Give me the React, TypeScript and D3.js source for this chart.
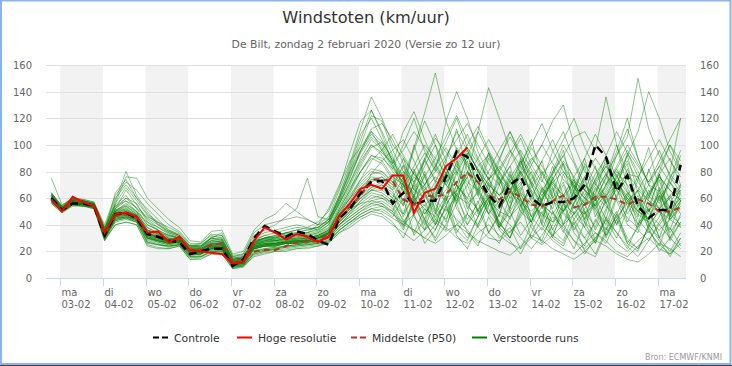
import { useRef, useEffect } from "react";
import * as d3 from "d3";

// forecast steps: 2 Feb 19:00 (local) + 6h per step
const startTime = Date.UTC(2020, 1, 2, 19);
const stepMs = 6 * 3600 * 1000;

const dayNames = ["ma", "di", "wo", "do", "vr", "za", "zo", "ma", "di", "wo", "do", "vr", "za", "zo", "ma"];
const dayDates = ["03-02", "04-02", "05-02", "06-02", "07-02", "08-02", "09-02", "10-02", "11-02", "12-02", "13-02", "14-02", "15-02", "16-02", "17-02"];
const yTicks = [0, 20, 40, 60, 80, 100, 120, 140, 160];

const controle = [60, 51, 56, 56, 54, 32, 48, 49, 45, 33, 31, 28, 27, 18, 20, 22, 22, 9, 14, 30, 39, 35, 31, 35, 33, 28, 25, 45, 52, 64, 72, 73, 56, 64, 55, 58, 58, 76, 95, 91, 76, 62, 54, 70, 76, 60, 54, 57, 57, 60, 70, 100, 91, 65, 77, 54, 45, 51, 51, 85];
const hogeResolutie = [59, 50, 61, 57, 54, 34, 48, 49, 46, 34, 35, 27, 31, 21, 20, 19, 18, 11, 12, 28, 38, 34, 29, 33, 31, 27, 31, 47, 56, 67, 70, 67, 77, 77, 49, 64, 67, 84, 90, 98];
const middelste = [59, 51, 57, 57, 54, 33, 47, 48, 45, 33, 31, 28, 29, 20, 21, 25, 26, 13, 14, 20, 21, 21, 24, 27, 27, 28, 33, 44, 54, 62, 74, 74, 73, 59, 55, 62, 61, 63, 72, 79, 72, 62, 59, 65, 61, 55, 54, 58, 62, 53, 55, 61, 61, 59, 55, 59, 56, 50, 50, 53];

const verstoordeRuns = [
  [62, 52, 58, 57, 55, 35, 50, 52, 47, 36, 33, 30, 28, 21, 22, 26, 25, 12, 14, 26, 30, 28, 30, 29, 30, 32, 36, 48, 60, 72, 80, 78, 70, 85, 66, 60, 72, 90, 110, 96, 80, 70, 62, 75, 88, 70, 55, 48, 60, 72, 66, 58, 70, 82, 65, 50, 45, 60, 72, 58],
  [58, 50, 56, 55, 53, 30, 44, 46, 44, 30, 28, 26, 27, 18, 18, 22, 22, 10, 12, 22, 24, 24, 26, 26, 27, 28, 31, 42, 50, 58, 66, 70, 62, 55, 70, 88, 74, 60, 65, 80, 72, 58, 50, 46, 55, 68, 80, 62, 48, 40, 52, 64, 78, 60, 45, 38, 50, 62, 48, 40],
  [75, 55, 60, 58, 56, 38, 55, 62, 52, 40, 36, 32, 30, 23, 22, 28, 27, 14, 15, 28, 32, 30, 34, 32, 33, 35, 40, 58, 75, 95, 110, 96, 82, 100, 120, 95, 80, 118, 140, 120, 95, 78, 70, 90, 105, 85, 72, 95, 110, 88, 70, 60, 75, 95, 120, 90, 70, 65, 80, 120],
  [56, 49, 55, 54, 52, 28, 42, 44, 42, 26, 25, 24, 25, 16, 16, 20, 20, 8, 10, 18, 20, 22, 23, 24, 25, 26, 28, 36, 42, 48, 52, 50, 45, 40, 48, 55, 42, 35, 40, 48, 38, 30, 28, 35, 42, 30, 25, 32, 40, 28, 22, 30, 38, 26, 20, 28, 35, 25, 18, 30],
  [64, 53, 59, 58, 56, 36, 58, 80, 62, 50, 40, 35, 32, 24, 24, 30, 28, 15, 16, 30, 34, 36, 38, 40, 38, 36, 42, 60, 80, 100, 122, 118, 96, 80, 72, 88, 105, 95, 80, 70, 84, 92, 75, 60, 70, 85, 100, 118, 130, 100, 80, 70, 62, 75, 88, 72, 60, 78, 90, 70],
  [60, 51, 57, 56, 54, 32, 48, 50, 46, 34, 30, 27, 28, 19, 20, 24, 23, 11, 12, 24, 26, 26, 28, 28, 29, 30, 34, 46, 56, 66, 74, 76, 66, 48, 72, 58, 40, 62, 88, 54, 46, 70, 38, 52, 80, 64, 44, 30, 56, 74, 48, 62, 90, 58, 40, 34, 60, 78, 46, 70],
  [61, 52, 58, 57, 55, 34, 52, 66, 55, 44, 38, 33, 30, 22, 21, 26, 25, 12, 13, 25, 28, 28, 30, 30, 30, 31, 35, 50, 64, 80, 92, 88, 76, 70, 84, 100, 90, 78, 92, 108, 90, 74, 62, 70, 80, 66, 58, 74, 86, 70, 60, 52, 64, 76, 92, 110, 140, 120, 95, 80],
  [57, 50, 55, 54, 53, 29, 40, 42, 40, 24, 22, 22, 24, 14, 14, 18, 18, 7, 9, 16, 18, 20, 20, 22, 22, 24, 27, 34, 38, 44, 48, 46, 40, 34, 28, 36, 44, 38, 30, 26, 34, 40, 32, 26, 22, 30, 38, 28, 22, 18, 26, 34, 28, 20, 16, 24, 30, 22, 18, 26],
  [63, 54, 60, 59, 57, 40, 62, 72, 66, 56, 48, 40, 35, 26, 26, 33, 32, 17, 18, 34, 40, 42, 44, 46, 44, 40, 46, 66, 86, 112, 136, 120, 100, 90, 78, 70, 84, 98, 84, 72, 66, 80, 96, 110, 90, 76, 64, 80, 92, 74, 62, 78, 90, 70, 58, 66, 80, 96, 76, 64],
  [59, 51, 56, 55, 54, 31, 46, 47, 44, 32, 29, 26, 27, 18, 19, 22, 22, 10, 11, 23, 25, 25, 27, 27, 28, 29, 33, 44, 52, 60, 66, 64, 58, 64, 76, 68, 58, 66, 82, 96, 80, 66, 56, 64, 58, 50, 60, 72, 62, 54, 48, 56, 66, 80, 70, 58, 48, 40, 50, 60],
  [62, 53, 59, 58, 56, 37, 54, 58, 50, 42, 36, 30, 29, 22, 23, 30, 34, 16, 17, 27, 30, 32, 34, 34, 32, 30, 34, 52, 66, 84, 98, 102, 90, 76, 98, 124, 154, 118, 96, 84, 72, 60, 52, 64, 78, 90, 80, 68, 56, 48, 60, 74, 86, 70, 58, 50, 62, 76, 66, 58],
  [59, 50, 56, 56, 54, 32, 45, 46, 43, 30, 27, 25, 26, 17, 18, 21, 21, 9, 10, 21, 22, 23, 24, 25, 26, 27, 30, 40, 46, 52, 56, 58, 52, 38, 60, 44, 70, 56, 34, 48, 82, 60, 42, 30, 54, 66, 40, 76, 58, 36, 50, 28, 44, 72, 86, 52, 38, 62, 30, 48],
  [61, 52, 58, 56, 55, 34, 50, 54, 49, 38, 34, 31, 30, 22, 22, 27, 27, 13, 14, 27, 30, 30, 32, 34, 36, 38, 44, 62, 82, 104, 126, 110, 92, 64, 100, 76, 58, 88, 112, 80, 66, 94, 70, 52, 84, 104, 74, 60, 40, 66, 90, 58, 76, 100, 68, 46, 82, 58, 70, 92],
  [57, 50, 55, 55, 53, 30, 43, 45, 43, 28, 26, 24, 25, 16, 17, 20, 21, 8, 9, 19, 21, 22, 24, 25, 25, 26, 29, 38, 44, 50, 54, 56, 50, 70, 46, 36, 62, 80, 52, 40, 58, 34, 48, 74, 56, 30, 44, 64, 86, 54, 38, 26, 50, 68, 42, 60, 36, 24, 46, 64],
  [60, 51, 57, 57, 55, 33, 56, 76, 75, 60, 52, 44, 38, 28, 27, 35, 36, 18, 20, 36, 44, 48, 56, 50, 44, 40, 42, 56, 72, 90, 104, 96, 84, 72, 96, 118, 100, 82, 70, 92, 110, 94, 78, 66, 80, 98, 84, 70, 62, 76, 90, 108, 92, 76, 64, 56, 70, 84, 72, 62],
  [58, 51, 56, 55, 54, 31, 47, 48, 45, 33, 30, 27, 28, 19, 19, 23, 23, 11, 12, 24, 25, 26, 27, 28, 28, 30, 32, 44, 54, 62, 70, 68, 60, 42, 54, 78, 50, 36, 66, 92, 70, 48, 58, 80, 54, 42, 68, 50, 34, 56, 76, 46, 62, 40, 52, 74, 98, 66, 44, 56],
  [63, 53, 59, 58, 56, 35, 52, 58, 53, 46, 42, 38, 34, 25, 24, 28, 27, 13, 14, 26, 29, 29, 31, 31, 32, 34, 40, 56, 70, 86, 100, 94, 86, 96, 110, 98, 84, 72, 86, 100, 114, 96, 80, 94, 108, 92, 78, 88, 104, 120, 98, 82, 70, 84, 100, 86, 72, 88, 104, 120],
  [56, 49, 54, 54, 52, 28, 40, 42, 40, 25, 23, 22, 24, 14, 15, 18, 18, 7, 8, 17, 19, 20, 21, 22, 23, 24, 26, 34, 40, 46, 50, 48, 42, 30, 48, 26, 36, 54, 32, 22, 40, 58, 36, 28, 18, 34, 50, 30, 24, 42, 20, 16, 34, 46, 28, 22, 38, 20, 30, 42],
  [61, 52, 58, 57, 55, 34, 49, 51, 47, 35, 32, 29, 29, 21, 21, 25, 25, 12, 13, 25, 27, 27, 29, 29, 30, 32, 36, 50, 62, 74, 82, 80, 72, 90, 66, 84, 100, 70, 58, 80, 62, 90, 74, 56, 88, 70, 52, 78, 96, 64, 86, 72, 56, 66, 94, 80, 62, 52, 76, 86],
  [59, 51, 57, 56, 54, 32, 47, 49, 45, 32, 30, 28, 28, 20, 20, 23, 24, 11, 12, 23, 25, 25, 27, 27, 28, 30, 33, 44, 52, 60, 68, 72, 78, 56, 70, 48, 62, 84, 60, 44, 56, 76, 52, 64, 90, 58, 46, 68, 40, 56, 74, 50, 36, 60, 82, 54, 42, 66, 48, 58],
  [62, 52, 59, 57, 55, 36, 51, 54, 48, 38, 33, 29, 28, 21, 22, 26, 26, 13, 13, 26, 28, 30, 32, 32, 34, 40, 52, 70, 88, 98, 110, 102, 88, 74, 62, 54, 64, 78, 70, 60, 52, 60, 72, 84, 96, 82, 68, 58, 50, 60, 70, 62, 54, 46, 56, 66, 58, 50, 44, 52],
  [58, 50, 56, 55, 53, 31, 46, 48, 45, 30, 28, 26, 27, 19, 19, 22, 22, 10, 11, 22, 24, 24, 26, 26, 27, 28, 31, 40, 48, 54, 60, 62, 56, 72, 50, 64, 44, 58, 80, 52, 66, 48, 38, 62, 72, 46, 56, 36, 52, 70, 44, 60, 30, 48, 64, 40, 54, 74, 44, 38],
  [64, 54, 60, 59, 57, 38, 60, 70, 60, 52, 44, 36, 32, 24, 24, 31, 32, 16, 18, 32, 36, 40, 46, 52, 75, 46, 44, 58, 76, 96, 108, 100, 86, 110, 125, 104, 86, 72, 80, 94, 82, 70, 62, 72, 86, 100, 116, 96, 80, 68, 60, 72, 84, 72, 62, 54, 64, 76, 66, 58],
  [60, 51, 57, 56, 54, 33, 48, 50, 46, 33, 30, 28, 28, 20, 20, 24, 24, 11, 12, 24, 26, 26, 28, 28, 28, 30, 33, 45, 54, 62, 68, 70, 64, 46, 62, 80, 56, 42, 70, 58, 38, 54, 76, 50, 64, 42, 60, 84, 62, 44, 56, 36, 52, 72, 48, 62, 40, 30, 52, 66],
  [57, 50, 55, 54, 53, 30, 44, 45, 42, 27, 25, 23, 25, 15, 16, 19, 19, 8, 9, 18, 20, 21, 22, 23, 24, 25, 27, 36, 42, 46, 50, 52, 46, 60, 32, 44, 28, 40, 56, 34, 24, 46, 30, 38, 22, 40, 54, 32, 26, 44, 30, 18, 36, 50, 26, 20, 40, 28, 16, 30],
  [61, 52, 58, 57, 55, 34, 50, 53, 48, 36, 32, 29, 29, 21, 21, 25, 25, 12, 13, 25, 28, 28, 30, 30, 31, 33, 37, 52, 66, 80, 90, 86, 74, 66, 58, 66, 76, 70, 62, 56, 64, 74, 84, 72, 62, 54, 62, 72, 80, 70, 60, 54, 62, 70, 78, 68, 58, 52, 60, 68],
  [62, 53, 58, 57, 55, 35, 64, 74, 60, 48, 42, 36, 33, 24, 25, 30, 29, 14, 15, 28, 30, 32, 34, 36, 36, 38, 44, 60, 78, 94, 106, 98, 84, 70, 60, 52, 46, 56, 66, 78, 110, 143, 120, 96, 78, 64, 56, 48, 40, 48, 58, 70, 84, 72, 60, 50, 44, 52, 62, 70],
  [59, 50, 56, 55, 54, 31, 45, 46, 44, 31, 28, 26, 27, 18, 18, 22, 22, 10, 11, 22, 24, 24, 26, 26, 27, 28, 30, 40, 46, 52, 58, 60, 54, 40, 58, 36, 48, 62, 42, 30, 46, 60, 38, 50, 32, 44, 58, 36, 28, 50, 42, 26, 46, 34, 22, 40, 52, 30, 38, 24],
  [60, 52, 57, 56, 55, 33, 48, 50, 46, 34, 31, 28, 28, 20, 21, 24, 25, 12, 12, 24, 26, 27, 28, 28, 29, 31, 34, 46, 56, 68, 76, 74, 68, 84, 60, 90, 72, 58, 78, 94, 66, 54, 80, 68, 50, 74, 88, 60, 72, 52, 66, 84, 56, 70, 92, 64, 50, 78, 58, 66],
  [58, 50, 55, 55, 53, 30, 44, 46, 43, 29, 27, 25, 26, 17, 18, 21, 21, 9, 10, 20, 22, 23, 24, 25, 26, 27, 30, 38, 44, 50, 56, 54, 48, 42, 36, 30, 26, 32, 40, 34, 28, 24, 20, 17, 24, 32, 28, 22, 18, 14, 20, 28, 24, 18, 14, 12, 18, 26, 22, 16],
  [63, 53, 59, 58, 56, 36, 54, 60, 52, 45, 40, 34, 31, 23, 23, 28, 28, 14, 15, 27, 30, 31, 33, 33, 34, 36, 42, 56, 72, 88, 100, 92, 80, 68, 80, 94, 82, 70, 84, 98, 86, 74, 90, 106, 92, 78, 66, 78, 92, 106, 110, 96, 136, 100, 78, 76, 90, 104, 88, 76],
  [59, 51, 56, 56, 54, 32, 46, 48, 45, 31, 29, 27, 28, 19, 19, 23, 23, 10, 11, 23, 25, 25, 27, 27, 28, 29, 32, 43, 52, 60, 66, 66, 60, 76, 54, 40, 68, 84, 56, 70, 50, 64, 46, 78, 60, 42, 58, 74, 50, 66, 84, 52, 40, 62, 76, 56, 44, 68, 52, 60],
  [61, 52, 58, 57, 55, 34, 49, 52, 47, 36, 33, 30, 29, 21, 21, 26, 26, 12, 13, 25, 27, 28, 29, 30, 30, 32, 35, 48, 60, 74, 88, 96, 108, 92, 78, 66, 58, 50, 62, 76, 90, 104, 90, 76, 64, 56, 48, 42, 50, 62, 76, 90, 78, 66, 56, 48, 42, 36, 44, 54],
  [57, 50, 55, 55, 53, 29, 43, 45, 42, 27, 25, 24, 25, 16, 16, 20, 20, 9, 10, 19, 21, 22, 23, 24, 25, 26, 28, 36, 42, 48, 52, 54, 50, 36, 58, 42, 30, 48, 64, 40, 52, 34, 26, 46, 60, 38, 28, 50, 36, 22, 42, 56, 32, 44, 26, 38, 52, 30, 20, 34],
  [62, 53, 58, 57, 55, 35, 51, 55, 50, 40, 36, 32, 30, 22, 22, 27, 27, 13, 14, 26, 28, 29, 31, 31, 32, 34, 38, 54, 68, 80, 92, 90, 82, 72, 62, 70, 80, 92, 104, 116, 100, 86, 74, 66, 76, 88, 100, 86, 74, 64, 56, 66, 78, 92, 106, 150, 112, 92, 78, 68],
  [60, 51, 57, 56, 54, 33, 47, 49, 46, 33, 31, 28, 28, 20, 20, 24, 24, 11, 12, 23, 25, 26, 27, 27, 28, 30, 34, 46, 58, 70, 78, 80, 72, 58, 80, 64, 50, 74, 56, 88, 62, 48, 70, 84, 58, 46, 66, 52, 78, 60, 44, 68, 56, 40, 62, 76, 50, 64, 46, 58],
  [58, 50, 56, 55, 53, 31, 45, 47, 44, 30, 28, 26, 27, 18, 18, 22, 22, 10, 11, 22, 24, 24, 26, 26, 27, 28, 31, 42, 50, 56, 62, 60, 56, 44, 34, 52, 40, 60, 36, 28, 46, 62, 38, 30, 50, 42, 26, 40, 56, 34, 24, 44, 32, 48, 30, 22, 38, 52, 28, 42],
  [64, 54, 60, 58, 56, 37, 56, 68, 58, 47, 41, 35, 32, 24, 23, 29, 29, 15, 16, 29, 32, 34, 36, 38, 37, 38, 44, 62, 84, 108, 120, 104, 88, 74, 64, 76, 90, 106, 122, 104, 88, 74, 82, 96, 84, 72, 62, 74, 88, 76, 66, 58, 68, 82, 96, 84, 72, 84, 100, 88],
  [59, 51, 57, 56, 54, 32, 47, 49, 45, 32, 30, 27, 28, 19, 20, 23, 23, 11, 12, 23, 25, 26, 27, 28, 28, 30, 33, 44, 54, 64, 72, 76, 70, 54, 82, 62, 48, 76, 90, 64, 50, 72, 58, 44, 66, 80, 56, 42, 62, 74, 50, 38, 60, 78, 54, 40, 66, 52, 36, 58],
  [60, 52, 57, 56, 54, 34, 49, 51, 47, 34, 31, 29, 29, 21, 21, 25, 25, 12, 13, 25, 27, 28, 29, 29, 30, 32, 36, 50, 60, 68, 74, 72, 66, 80, 58, 70, 52, 44, 62, 76, 48, 60, 40, 54, 68, 46, 36, 56, 70, 48, 38, 60, 44, 30, 52, 66, 40, 50, 34, 46],
  [61, 52, 58, 57, 54, 33, 50, 56, 50, 36, 34, 32, 30, 24, 26, 32, 30, 14, 16, 28, 30, 31, 34, 36, 38, 42, 50, 68, 94, 118, 126, 108, 86, 70, 56, 48, 60, 78, 98, 86, 64, 52, 40, 34, 46, 60, 78, 66, 50, 38, 30, 42, 58, 72, 60, 44, 34, 46, 62, 48],
  [58, 50, 56, 56, 54, 31, 46, 50, 47, 30, 28, 27, 28, 19, 19, 22, 23, 10, 11, 22, 24, 25, 26, 27, 28, 30, 34, 42, 50, 62, 78, 88, 96, 104, 88, 70, 84, 102, 120, 98, 80, 66, 88, 110, 94, 72, 58, 80, 100, 86, 66, 54, 70, 92, 112, 90, 70, 56, 74, 96],
  [60, 51, 57, 56, 54, 33, 48, 49, 46, 34, 31, 28, 28, 20, 20, 24, 24, 11, 12, 24, 26, 26, 27, 28, 29, 31, 34, 46, 52, 56, 58, 56, 48, 40, 36, 30, 40, 52, 44, 36, 26, 34, 48, 40, 30, 22, 32, 46, 38, 28, 18, 30, 44, 34, 24, 16, 28, 40, 30, 22],
  [62, 53, 58, 57, 55, 35, 52, 60, 56, 42, 38, 34, 31, 23, 24, 30, 30, 14, 15, 27, 29, 30, 32, 33, 34, 37, 42, 60, 80, 96, 112, 116, 104, 86, 72, 90, 108, 88, 70, 60, 76, 94, 80, 66, 54, 70, 88, 104, 84, 68, 56, 74, 92, 110, 94, 76, 62, 80, 100, 82],
  [59, 51, 56, 55, 54, 32, 46, 47, 44, 31, 29, 27, 27, 19, 19, 22, 22, 10, 11, 22, 24, 25, 26, 26, 27, 28, 31, 40, 48, 58, 64, 62, 56, 48, 62, 44, 36, 54, 70, 48, 40, 58, 42, 30, 48, 62, 40, 32, 50, 64, 42, 34, 26, 44, 58, 36, 28, 42, 54, 38],
];

const legendNames = ["Controle", "Hoge resolutie", "Middelste (P50)", "Verstoorde runs"];
const legendX = [153, 237, 351, 472];

export default function App() {
  const ref = useRef<SVGSVGElement>(null);

  useEffect(() => {
    const svg = d3.select(ref.current);
    svg.selectAll("*").remove();

    const width = 732;
    const height = 366;
    const plot = { left: 46, right: 686, top: 65, bottom: 278 };
    const font = "DejaVu Sans, sans-serif";

    svg.attr("width", width).attr("height", height);

    svg.append("rect").attr("width", width).attr("height", height).attr("fill", "#fff");

    const x = d3.scaleUtc()
      .domain([Date.UTC(2020, 1, 2, 16), Date.UTC(2020, 1, 17, 16)])
      .range([plot.left, plot.right]);

    const y = d3.scaleLinear()
      .domain([0, 160])
      .range([plot.bottom, plot.top]);

    // alternating day bands
    const days = d3.utcDay.range(new Date(Date.UTC(2020, 1, 3)), new Date(Date.UTC(2020, 1, 18)));
    days.forEach((d, i) => {
      if (i % 2 !== 0) return;
      const x0 = x(d);
      const x1 = Math.min(x(d3.utcDay.offset(d, 1)), plot.right);
      svg.append("rect")
        .attr("x", x0)
        .attr("y", plot.top)
        .attr("width", x1 - x0)
        .attr("height", plot.bottom - plot.top)
        .attr("fill", "#f2f2f2");
    });

    // grid + y labels on both sides
    yTicks.forEach(t => {
      const yy = Math.round(y(t)) + 0.5;
      if (t > 0) {
        svg.append("line")
          .attr("x1", plot.left).attr("x2", plot.right)
          .attr("y1", yy).attr("y2", yy)
          .attr("stroke", "#e0e0e0");
      }
      svg.append("text")
        .attr("x", 32).attr("y", yy + 3.5)
        .attr("text-anchor", "end")
        .attr("font-family", font).attr("font-size", 10)
        .attr("fill", "#666")
        .text(t);
      svg.append("text")
        .attr("x", 700).attr("y", yy + 3.5)
        .attr("font-family", font).attr("font-size", 10)
        .attr("fill", "#666")
        .text(t);
    });

    // x axis
    svg.append("line")
      .attr("x1", plot.left).attr("x2", plot.right)
      .attr("y1", plot.bottom + 0.5).attr("y2", plot.bottom + 0.5)
      .attr("stroke", "#ccd6eb");

    days.forEach((d, i) => {
      const xx = Math.round(x(d)) + 0.5;
      svg.append("line")
        .attr("x1", xx).attr("x2", xx)
        .attr("y1", plot.bottom).attr("y2", plot.bottom + 8)
        .attr("stroke", "#ccd6eb");
      const label = svg.append("text")
        .attr("font-family", font).attr("font-size", 10)
        .attr("fill", "#666");
      label.append("tspan").attr("x", xx + 1).attr("y", 296).text(dayNames[i]);
      label.append("tspan").attr("x", xx + 1).attr("y", 308).text(dayDates[i]);
    });

    const line = d3.line<number>()
      .x((_, i) => x(new Date(startTime + i * stepMs)))
      .y(d => y(d));

    const g = svg.append("g");

    verstoordeRuns.forEach(run => {
      g.append("path")
        .attr("d", line(run))
        .attr("fill", "none")
        .attr("stroke", "#008000")
        .attr("stroke-opacity", 0.45)
        .attr("stroke-width", 1);
    });

    g.append("path")
      .attr("d", line(middelste))
      .attr("fill", "none")
      .attr("stroke", "#b5352c")
      .attr("stroke-width", 2)
      .attr("stroke-dasharray", "6,4");

    g.append("path")
      .attr("d", line(controle))
      .attr("fill", "none")
      .attr("stroke", "#000")
      .attr("stroke-width", 2.5)
      .attr("stroke-dasharray", "8,5");

    g.append("path")
      .attr("d", line(hogeResolutie))
      .attr("fill", "none")
      .attr("stroke", "#ff0000")
      .attr("stroke-width", 2);

    // titles
    svg.append("text")
      .attr("x", 366).attr("y", 23)
      .attr("text-anchor", "middle")
      .attr("font-family", font).attr("font-size", 16.2)
      .attr("fill", "#333")
      .text("Windstoten (km/uur)");

    svg.append("text")
      .attr("x", 366).attr("y", 48)
      .attr("text-anchor", "middle")
      .attr("font-family", font).attr("font-size", 10.8)
      .attr("fill", "#666")
      .text("De Bilt, zondag 2 februari 2020 (Versie zo 12 uur)");

    // legend
    const legendStyle = [
      { stroke: "#000", dash: "6,3" },
      { stroke: "#ff0000", dash: null },
      { stroke: "#b5352c", dash: "6,3" },
      { stroke: "#008000", dash: null }
    ];
    legendNames.forEach((name, i) => {
      const lx = legendX[i];
      svg.append("line")
        .attr("x1", lx).attr("x2", lx + 15)
        .attr("y1", 337.5).attr("y2", 337.5)
        .attr("stroke", legendStyle[i].stroke)
        .attr("stroke-width", 2)
        .attr("stroke-dasharray", legendStyle[i].dash);
      svg.append("text")
        .attr("x", lx + 21).attr("y", 341.5)
        .attr("font-family", font).attr("font-size", 10.8)
        .attr("fill", "#333")
        .text(name);
    });

    svg.append("text")
      .attr("x", 722).attr("y", 360)
      .attr("text-anchor", "end")
      .attr("font-family", font).attr("font-size", 8)
      .attr("fill", "#999")
      .text("Bron: ECMWF/KNMI");

    // frame
    svg.append("rect")
      .attr("x", 1).attr("y", 0.5)
      .attr("width", 729.5).attr("height", 363.5)
      .attr("fill", "none")
      .attr("stroke", "#8db4ea")
      .attr("stroke-width", 2);
    svg.append("line")
      .attr("x1", 0).attr("x2", width)
      .attr("y1", 365.5).attr("y2", 365.5)
      .attr("stroke", "#444");
  }, []);

  return (
    <div style={{ position: "absolute", left: 0, top: 0 }}>
      <svg ref={ref} style={{ display: "block" }}></svg>
    </div>
  );
}
